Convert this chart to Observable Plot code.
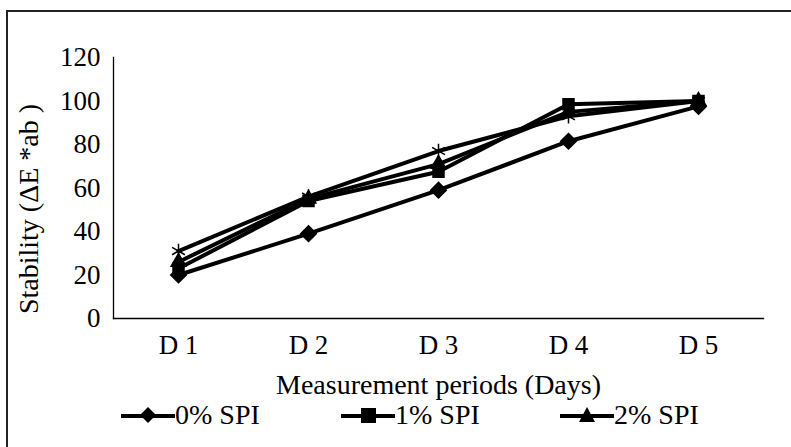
<!DOCTYPE html>
<html>
<head>
<meta charset="utf-8">
<script src="https://cdn.jsdelivr.net/npm/d3@7"></script>
<script src="https://cdn.jsdelivr.net/npm/@observablehq/plot@0.6"></script>
<style>
  html, body { margin: 0; padding: 0; background: #fff; }
  #wrap { position: relative; width: 791px; height: 447px; overflow: hidden; background: #fff;
          font-family: "Liberation Serif", "Times New Roman", serif; color: #000; }
  #frame { position: absolute; left: 6px; top: 10px; width: 800px; height: 460px;
           border-left: 2px solid #222; border-top: 2px solid #222; }
  #chart { position: absolute; left: 0; top: 0; }
  #ytitle { position: absolute; left: 29px; top: 209px; transform: translate(-50%, -50%) rotate(-90deg);
            white-space: nowrap; font-size: 28px; line-height: 1; font-family: "Liberation Serif", serif; }
  .lg { position: absolute; top: 401px; height: 28px; display: flex; align-items: center; font-size: 28px; line-height: 1;
        white-space: nowrap; font-family: "Liberation Serif", serif; }
</style>
</head>
<body>
<div id="wrap">
  <div id="frame"></div>
  <div id="chart"></div>
  <div id="ytitle">Stability (ΔE *ab )</div>
  <div id="legend"></div>
</div>
<script>
// ---- data ----
const categories = ["D 1", "D 2", "D 3", "D 4", "D 5"];
const seriesNames = ["0% SPI", "1% SPI", "2% SPI", "3% SPI"];
const spi0 = [20, 39, 59, 81.5, 97.5];
const spi1 = [23, 54, 67.5, 98.5, 100];
const spi2 = [26, 55, 71, 95, 100];
const spi3 = [31, 56, 77, 93, 100];
const yTicks = [0, 20, 40, 60, 80, 100, 120];
const legendNames = ["0% SPI", "1% SPI", "2% SPI"];

const seriesValues = [spi0, spi1, spi2, spi3];
const symbols = ["diamond2", "square2", "triangle2", "asterisk"];
const data = [];
seriesNames.forEach((s, i) => categories.forEach((c, j) => data.push({series: s, period: c, value: seriesValues[i][j]})));

const chart = Plot.plot({
  width: 791,
  height: 400,
  marginLeft: 113,
  marginRight: 28,
  marginTop: 57,
  marginBottom: 82,
  style: {fontFamily: "'Liberation Serif', 'Times New Roman', serif", fontSize: "27px", color: "#000", background: "transparent", overflow: "visible"},
  x: {type: "point", domain: categories, padding: 0.5},
  y: {domain: [0, 120]},
  symbol: {domain: seriesNames, range: symbols},
  marks: [
    Plot.axisY({ticks: yTicks, tickSize: 0, tickPadding: 13, label: null, fontSize: 27}),
    Plot.axisX({tickSize: 0, tickPadding: 16, fontSize: 27, tickFormat: d => d, label: null}),
    Plot.axisX({tickSize: 0, ticks: [], fontSize: 28, label: "Measurement periods (Days)",
                labelAnchor: "center", labelArrow: "none", labelOffset: 75}),
    Plot.frame({anchor: "left", stroke: "#000", strokeWidth: 1.3}),
    Plot.frame({anchor: "bottom", stroke: "#000", strokeWidth: 1.3}),
    Plot.line(data, {x: "period", y: "value", z: "series", stroke: "#000", strokeWidth: 4}),
    Plot.dot(data, {x: "period", y: "value", symbol: "series", fill: "#000", stroke: "#000", r: 7, strokeWidth: 1.5})
  ]
});
document.getElementById("chart").appendChild(chart);

// ---- legend ----
const legendLefts = [121, 341, 560];
const legendShapes = {
  "diamond2": '<path d="M27,4 L35,12 L27,20 L19,12 Z" fill="#000"/>',
  "square2": '<rect x="20" y="5" width="15" height="15" fill="#000"/>',
  "triangle2": '<path d="M27,4 L35,19 L19,19 Z" fill="#000"/>'
};
const lg = document.getElementById("legend");
legendNames.forEach((name, i) => {
  const sym = symbols[seriesNames.indexOf(name)];
  const div = document.createElement("div");
  div.className = "lg";
  div.style.left = legendLefts[i] + "px";
  div.innerHTML = `<svg width="54" height="24"><line x1="0" y1="13" x2="54" y2="13" stroke="#000" stroke-width="4"/>${legendShapes[sym]}</svg><span>${name}</span>`;
  lg.appendChild(div);
});
</script>
</body>
</html>
